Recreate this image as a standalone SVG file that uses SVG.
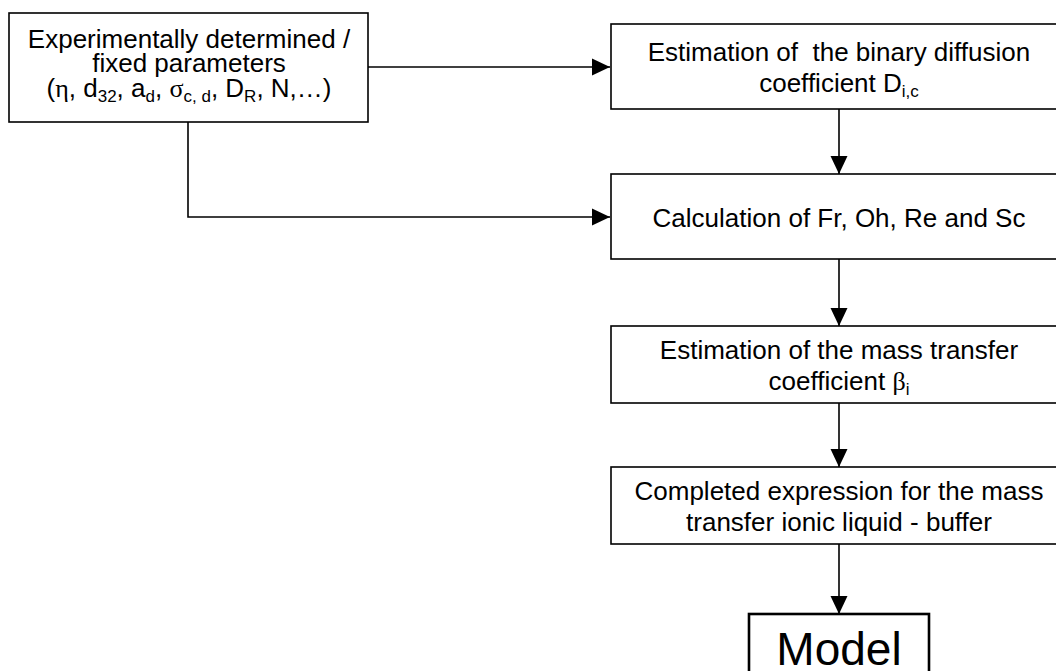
<svg xmlns="http://www.w3.org/2000/svg" width="1056" height="671" viewBox="0 0 1056 671">
  <style>
    .box { fill: #ffffff; stroke: #000000; stroke-width: 1.6; }
    .box-bold { fill: #ffffff; stroke: #000000; stroke-width: 2.6; }
    .lbl { font-family: "Liberation Sans", Arial, sans-serif; font-size: 26px; fill: #000000; text-anchor: middle; }
    .big { font-family: "Liberation Sans", Arial, sans-serif; font-size: 46px; fill: #000000; text-anchor: middle; }
    .sub { font-size: 17px; }
    .greek { font-family: "Liberation Serif", "Times New Roman", serif; }
    .conn { fill: none; stroke: #000000; stroke-width: 1.6; }
  </style>
  <defs>
    <marker id="arrow" markerUnits="userSpaceOnUse" markerWidth="18" markerHeight="18" viewBox="0 0 18 18" refX="18" refY="9" orient="auto">
      <path d="M0,0.5 L18,9 L0,17.5 Z" fill="#000000"/>
    </marker>
  </defs>
  <rect width="1056" height="671" fill="#ffffff"/>

  <!-- connectors -->
  <g id="connectors">
    <path class="conn" d="M368,67 H610" marker-end="url(#arrow)"/>
    <path class="conn" d="M188,122 V217 H610" marker-end="url(#arrow)"/>
    <path class="conn" d="M839,109 V174" marker-end="url(#arrow)"/>
    <path class="conn" d="M839,259 V326" marker-end="url(#arrow)"/>
    <path class="conn" d="M839,403 V467" marker-end="url(#arrow)"/>
    <path class="conn" d="M839,544 V614" marker-end="url(#arrow)"/>
  </g>

  <g id="node-parameters">
    <rect class="box" x="9" y="13" width="359" height="109"/>
    <text class="lbl" x="189" y="47.5">Experimentally determined /</text>
    <text class="lbl" x="189" y="72">fixed parameters</text>
    <text class="lbl" x="189" y="96.5">(<tspan class="greek">η</tspan>, d<tspan class="sub" dy="5">32</tspan><tspan dy="-5">, a</tspan><tspan class="sub" dy="5">d</tspan><tspan dy="-5">, </tspan><tspan class="greek" dy="0">σ</tspan><tspan class="sub" dy="5">c, d</tspan><tspan dy="-5">, D</tspan><tspan class="sub" dy="5">R</tspan><tspan dy="-5">, N,…)</tspan></text>
  </g>

  <g id="node-diffusion">
    <rect class="box" x="611" y="24" width="460" height="85"/>
    <text class="lbl" x="839" y="61" xml:space="preserve">Estimation of  the binary diffusion</text>
    <text class="lbl" x="839" y="91.5">coefficient D<tspan class="sub" dy="5">i,c</tspan></text>
  </g>

  <g id="node-dimensionless">
    <rect class="box" x="611" y="174" width="460" height="85"/>
    <text class="lbl" x="839" y="227">Calculation of Fr, Oh, Re and Sc</text>
  </g>

  <g id="node-mass-transfer">
    <rect class="box" x="611" y="326" width="460" height="77"/>
    <text class="lbl" x="839" y="358.5">Estimation of the mass transfer</text>
    <text class="lbl" x="839" y="390">coefficient <tspan class="greek">β</tspan><tspan class="sub" dy="5">i</tspan></text>
  </g>

  <g id="node-expression">
    <rect class="box" x="611" y="467" width="460" height="77"/>
    <text class="lbl" x="839" y="499.5">Completed expression for the mass</text>
    <text class="lbl" x="839" y="530.5">transfer ionic liquid - buffer</text>
  </g>

  <g id="node-model">
    <rect class="box-bold" x="749" y="614" width="180" height="70"/>
    <text class="big" x="839" y="665">Model</text>
  </g>
</svg>
